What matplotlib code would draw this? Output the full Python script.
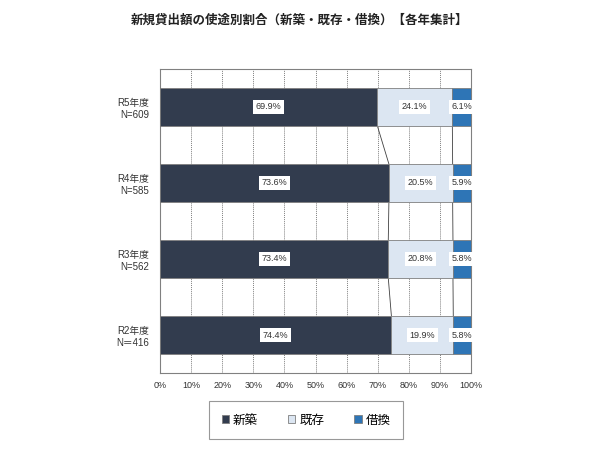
import matplotlib
matplotlib.use("Agg")
import matplotlib.pyplot as plt
import numpy as np

plt.rcParams['font.family'] = ['Liberation Sans', 'Noto Sans CJK JP', 'DejaVu Sans']

years = ["R5年度\nN=609", "R4年度\nN=585", "R3年度\nN=562", "R2年度\nN＝416"]
shinchiku = [69.9, 73.6, 73.4, 74.4]
kison = [24.1, 20.5, 20.8, 19.9]
karikae = [6.1, 5.9, 5.8, 5.8]
names = ["新築", "既存", "借換"]
colors = ["#323c4e", "#dce6f2", "#2e75b6"]

fig = plt.figure(figsize=(6, 4.5), dpi=100)
ax = fig.add_axes([0.2667, 0.1711, 0.5183, 0.6756])

y = np.arange(len(years))[::-1]
h = 0.5
series = [shinchiku, kison, karikae]
left = np.zeros(len(years))
for vals, c, n in zip(series, colors, names):
    vals = np.array(vals)
    ax.barh(y, vals, height=h, left=left, color=c, edgecolor="#7f7f7f",
            linewidth=0.6, label=n, zorder=3)
    for yi, l, v in zip(y, left, vals):
        ax.text(l + v / 2, yi, f"{v:.1f}%", ha="center", va="center",
                fontsize=6.5, color="#333333", zorder=5,
                bbox=dict(facecolor="white", edgecolor="none", pad=2))
    left = left + vals

# series lines between bars
cum1 = np.array(shinchiku)
cum2 = cum1 + np.array(kison)
for cum in (cum1, cum2):
    for i in range(len(years) - 1):
        ax.plot([cum[i], cum[i + 1]], [y[i] - h / 2, y[i + 1] + h / 2],
                color="#404040", linewidth=0.6, zorder=2)

ax.set_xlim(0, 100)
ax.set_ylim(-0.5, 3.5)
ax.set_xticks(np.arange(0, 101, 10))
ax.set_xticklabels([f"{v}%" for v in range(0, 101, 10)], fontsize=6.5, color="#333333")
ax.set_yticks(y)
ax.set_yticklabels(years, fontsize=7, color="#333333")
ax.tick_params(axis="y", length=0, pad=8)
ax.tick_params(axis="x", length=0, pad=6)
ax.grid(axis="x", color="#808080", linestyle=(0, (1, 1)), linewidth=0.7, zorder=0)
for s in ax.spines.values():
    s.set_color("#808080")
    s.set_linewidth(0.8)

fig.text(0.5, 0.955, "新規貸出額の使途別割合（新築・既存・借換）【各年集計】",
         ha="center", va="center", fontsize=9, fontweight="bold", color="#222222",
         family=['Noto Sans CJK JP', 'DejaVu Sans'])

leg = fig.legend(loc="center", bbox_to_anchor=(215 / 600, 1 - 440 / 450, 182 / 600, 40 / 450),
                 bbox_transform=fig.transFigure, ncol=3,
                 prop={'family': ['Noto Sans CJK JP', 'DejaVu Sans'], 'size': 9},
                 frameon=True, fancybox=False, edgecolor="#7f7f7f",
                 handlelength=0.6, handleheight=0.6, handletextpad=0.3,
                 columnspacing=2.4, borderpad=1.0, borderaxespad=0)
leg.get_frame().set_linewidth(0.8)

fig.savefig("out.png", dpi=100)
